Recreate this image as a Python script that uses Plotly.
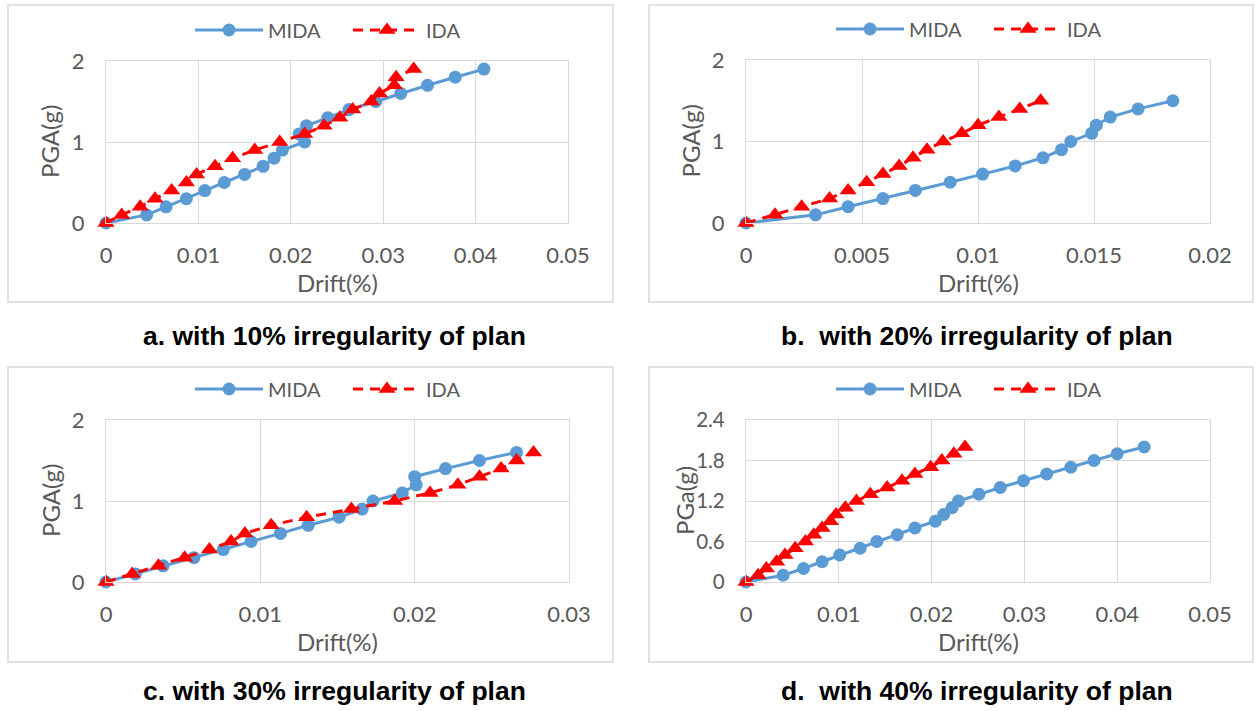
import plotly.graph_objects as go

W, H = 1258, 711

# ---------------- data ----------------
pga_a = [0, 0.1, 0.2, 0.3, 0.4, 0.5, 0.6, 0.7, 0.8, 0.9, 1.0, 1.1, 1.2, 1.3, 1.4, 1.5, 1.6, 1.7, 1.8, 1.9]
a_mida = [0, 0.0044, 0.0065, 0.0087, 0.0107, 0.0128, 0.0150, 0.0170, 0.0182, 0.0191, 0.0215, 0.0209,
          0.0217, 0.0240, 0.0263, 0.0292, 0.0319, 0.0348, 0.0378, 0.0409]
a_ida = [0, 0.0017, 0.0037, 0.0053, 0.0071, 0.0087, 0.0098, 0.0118, 0.0137, 0.0161, 0.0188, 0.0215,
         0.0236, 0.0253, 0.0267, 0.0287, 0.0296, 0.0312, 0.0314, 0.0333]

pga_b = [0, 0.1, 0.2, 0.3, 0.4, 0.5, 0.6, 0.7, 0.8, 0.9, 1.0, 1.1, 1.2, 1.3, 1.4, 1.5]
b_mida = [0, 0.0030, 0.0044, 0.0059, 0.0073, 0.0088, 0.0102, 0.0116, 0.0128, 0.0136, 0.0140, 0.0149,
          0.0151, 0.0157, 0.0169, 0.0184]
b_ida = [0, 0.00125, 0.0024, 0.0036, 0.0044, 0.0052, 0.0059, 0.0066, 0.0072, 0.0078, 0.0085, 0.0093,
         0.0100, 0.0109, 0.0118, 0.0127]

pga_c = [0, 0.1, 0.2, 0.3, 0.4, 0.5, 0.6, 0.7, 0.8, 0.9, 1.0, 1.1, 1.2, 1.3, 1.4, 1.5, 1.6]
c_mida = [0, 0.0019, 0.0037, 0.0057, 0.0076, 0.0094, 0.0113, 0.0131, 0.0151, 0.0166, 0.0173, 0.0192,
          0.0201, 0.0200, 0.0220, 0.0242, 0.0266]
c_ida = [0, 0.0017, 0.0034, 0.0051, 0.0067, 0.0081, 0.0090, 0.0107, 0.0130, 0.0159, 0.0187, 0.0210,
         0.0228, 0.0242, 0.0256, 0.0266, 0.0277]

pga_d = [0, 0.1, 0.2, 0.3, 0.4, 0.5, 0.6, 0.7, 0.8, 0.9, 1.0, 1.1, 1.2, 1.3, 1.4, 1.5, 1.6, 1.7, 1.8, 1.9, 2.0]
d_mida = [0, 0.0040, 0.0062, 0.0082, 0.0101, 0.0123, 0.0141, 0.0163, 0.0182, 0.0204, 0.0213, 0.0222,
          0.0229, 0.0251, 0.0274, 0.0299, 0.0324, 0.0350, 0.0375, 0.0400, 0.0429]
d_ida = [0, 0.0013, 0.0022, 0.0033, 0.0042, 0.0053, 0.0064, 0.0073, 0.0082, 0.0091, 0.0097, 0.0107,
         0.0119, 0.0134, 0.0152, 0.0168, 0.0182, 0.0199, 0.0211, 0.0224, 0.0236]

xt_a = [0, 0.01, 0.02, 0.03, 0.04, 0.05]
xl_a = ["0", "0.01", "0.02", "0.03", "0.04", "0.05"]
xt_b = [0, 0.005, 0.01, 0.015, 0.02]
xl_b = ["0", "0.005", "0.01", "0.015", "0.02"]
xt_c = [0, 0.01, 0.02, 0.03]
xl_c = ["0", "0.01", "0.02", "0.03"]
xt_d = [0, 0.01, 0.02, 0.03, 0.04, 0.05]
xl_d = ["0", "0.01", "0.02", "0.03", "0.04", "0.05"]
yt_abc = [0, 1, 2]
yl_abc = ["0", "1", "2"]
yt_d = [0, 0.6, 1.2, 1.8, 2.4]
yl_d = ["0", "0.6", "1.2", "1.8", "2.4"]

captions = ["a. with 10% irregularity of plan", "b.\u00a0 with 20% irregularity of plan",
            "c. with 30% irregularity of plan", "d.\u00a0 with 40% irregularity of plan"]
ytitles = ["PGA(g)", "PGA(g)", "PGA(g)", "PGa(g)"]
xtitle = "Drift(%)"
series_names = ["MIDA", "IDA"]

# ---------------- layout geometry (pixels) ----------------
BLUE = "#5B9BD5"
RED = "#FF0000"
GRID = "#D9D9D9"
TXT = "#595959"
FONT = "Lato"

panels = [
    dict(x=(106, 568), y=(61, 223), xr=[0, 0.05], yr=[0, 2], xt=xt_a, xl=xl_a, yt=yt_abc, yl=yl_abc,
         box=(8, 5, 613, 302), data=(a_mida, a_ida, pga_a), ytx=50, ytf=22),
    dict(x=(746, 1210), y=(60, 223), xr=[0, 0.02], yr=[0, 2], xt=xt_b, xl=xl_b, yt=yt_abc, yl=yl_abc,
         box=(649, 5, 1253, 302), data=(b_mida, b_ida, pga_b), ytx=690, ytf=22),
    dict(x=(106, 569), y=(420, 582), xr=[0, 0.03], yr=[0, 2], xt=xt_c, xl=xl_c, yt=yt_abc, yl=yl_abc,
         box=(8, 367, 613, 662), data=(c_mida, c_ida, pga_c), ytx=50, ytf=22),
    dict(x=(746, 1210), y=(420, 582), xr=[0, 0.05], yr=[0, 2.4], xt=xt_d, xl=xl_d, yt=yt_d, yl=yl_d,
         box=(649, 367, 1253, 662), data=(d_mida, d_ida, pga_d), ytx=684, ytf=20.5),
]


def fx(px):
    return px / W


def fy(py):
    return 1 - py / H


fig = go.Figure()
shapes = []
annotations = []
layout = {}

for i, p in enumerate(panels):
    n = i + 1
    xa = "x" if n == 1 else f"x{n}"
    ya = "y" if n == 1 else f"y{n}"
    lg = "legend" if n == 1 else f"legend{n}"
    mida, ida, pga = p["data"]
    fig.add_trace(go.Scatter(
        x=mida, y=pga, mode="lines+markers", name=series_names[0], xaxis=xa, yaxis=ya, legend=lg,
        line=dict(color=BLUE, width=3),
        marker=dict(symbol="circle", size=13, color=BLUE),
        cliponaxis=False))
    fig.add_trace(go.Scatter(
        x=ida, y=pga, mode="lines+markers", name=series_names[1], xaxis=xa, yaxis=ya, legend=lg,
        line=dict(color=RED, width=3, dash="10px,7px"),
        marker=dict(symbol="triangle-up", size=15, color=RED),
        cliponaxis=False))

    x0, x1 = p["x"]
    y0, y1 = p["y"]
    layout["xaxis" if n == 1 else f"xaxis{n}"] = dict(
        domain=[fx(x0), fx(x1)], range=p["xr"], anchor=ya, automargin=False,
        tickvals=p["xt"], ticktext=p["xl"], showgrid=True, gridcolor=GRID, gridwidth=1.3,
        zeroline=False, showline=True, linecolor=GRID, linewidth=1.3, mirror=True,
        ticks="", ticklabelstandoff=12, tickfont=dict(family=FONT, size=22, color=TXT),
        fixedrange=True)
    layout["yaxis" if n == 1 else f"yaxis{n}"] = dict(
        domain=[fy(y1), fy(y0)], range=p["yr"], anchor=xa, automargin=False,
        tickvals=p["yt"], ticktext=p["yl"], showgrid=True, gridcolor=GRID, gridwidth=1.3,
        zeroline=False, showline=True, linecolor=GRID, linewidth=1.3, mirror=True,
        ticks="", ticklabelstandoff=16, tickfont=dict(family=FONT, size=p["ytf"], color=TXT),
        fixedrange=True)

    bx0, by0, bx1, by1 = p["box"]
    shapes.append(dict(type="rect", xref="paper", yref="paper",
                       x0=fx(bx0), x1=fx(bx1), y0=fy(by1), y1=fy(by0),
                       line=dict(color=GRID, width=1.5), fillcolor="rgba(0,0,0,0)", layer="below"))

    # legend
    layout[lg] = dict(orientation="h", x=fx(bx0 + 182), y=fy(y0 - 31), xanchor="left", yanchor="middle",
                      font=dict(family=FONT, size=20, color=TXT), bgcolor="rgba(0,0,0,0)",
                      itemwidth=68, entrywidth=75, entrywidthmode="pixels", itemclick=False,
                      itemdoubleclick=False, tracegroupgap=0)

    # axis titles
    annotations.append(dict(text=ytitles[i], xref="paper", yref="paper", x=fx(p["ytx"]),
                            y=fy((y0 + y1) / 2), textangle=-90, showarrow=False,
                            xanchor="center", yanchor="middle",
                            font=dict(family=FONT, size=24, color=TXT)))
    annotations.append(dict(text=xtitle, xref="paper", yref="paper", x=fx((x0 + x1) / 2),
                            y=fy(y1 + 59), showarrow=False, xanchor="center", yanchor="middle",
                            font=dict(family=FONT, size=24, color=TXT)))
    # caption
    cy = 336 if i < 2 else 691
    cx = 334 if i % 2 == 0 else 977
    annotations.append(dict(text=captions[i], xref="paper", yref="paper", x=fx(cx), y=fy(cy),
                            showarrow=False, xanchor="center", yanchor="middle",
                            font=dict(family="Liberation Sans", size=26.5, color="#000000", weight="bold")))

fig.update_layout(**layout)
fig.update_layout(width=W, height=H, margin=dict(l=0, r=0, t=0, b=0, autoexpand=False),
                  paper_bgcolor="white", plot_bgcolor="white",
                  shapes=shapes, annotations=annotations, showlegend=True)

fig.write_html("out.html")
